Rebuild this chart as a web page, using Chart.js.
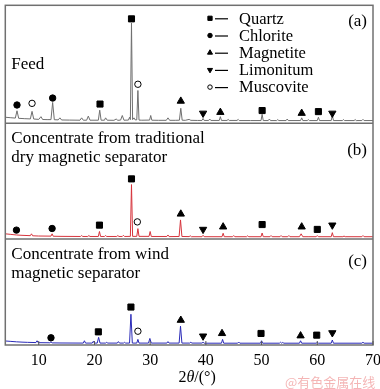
<!DOCTYPE html>
<html><head><meta charset="utf-8">
<script src="https://cdn.jsdelivr.net/npm/chart.js@4.4.1/dist/chart.umd.min.js"></script>
<style>html,body{margin:0;padding:0;background:#fff;overflow:hidden}#wrap{width:380px;height:389px;position:relative}</style>
</head><body><div id="wrap"><canvas id="c" width="380" height="389"></canvas></div>
<script>
// ---------- data ----------
const xTickValues = [10, 20, 30, 40, 50, 60, 70];
const xTitle = ["2", "θ", "/(°)"];
const panelLabels = [["Feed"], ["Concentrate from traditional", "dry magnetic separator"], ["Concentrate from wind", "magnetic separator"]];
const panelTags = ["(a)", "(b)", "(c)"];
const phases = ["Quartz", "Chlorite", "Magnetite", "Limonitum", "Muscovite"];
const watermark = "@有色金属在线";

// XRD patterns: [2θ, relative intensity (% of panel height)]
const feedPattern = [[4,5],[5,4.6],[5.8,4.3],[6.1,10.5],[6.4,4.1],[7.5,3.8],[8.5,3.6],[8.8,10],[9.1,3.5],[10.0,3.2],[10.4,5.5],[10.7,3.1],[11.5,3],[12.2,3],[12.5,17.6],[12.8,2.9],[13.5,2.8],[13.8,4.5],[14.1,2.7],[15.5,2.6],[17.4,2.5],[17.7,4.5],[18.0,2.5],[18.6,2.5],[18.9,6],[19.2,2.5],[20.7,2.5],[20.95,11],[21.2,2.5],[21.8,2.5],[22.0,4.5],[22.3,2.5],[23.5,2.4],[23.9,3.5],[24.2,2.4],[24.7,2.6],[25.0,6.5],[25.3,2.5],[26.1,2.6],[26.3,5],[26.45,3],[26.65,85],[26.85,3],[27.1,4.5],[27.3,2.8],[27.6,2.8],[27.8,27.7],[28.0,2.6],[28.5,2.5],[29.9,2.6],[30.1,6.5],[30.3,2.5],[31.5,2.4],[32.9,2.4],[33.2,4.5],[33.5,2.4],[34.5,2.4],[35.25,2.5],[35.5,12.6],[35.75,2.5],[36.3,2.4],[37,3.2],[37.3,2.4],[38.5,2.3],[39.3,2.3],[39.5,4],[39.7,2.3],[40.5,2.3],[40.7,3.5],[40.9,2.3],[42.4,2.3],[42.6,5.5],[42.8,2.3],[43.8,2.3],[44.0,3.2],[44.2,2.3],[45.6,2.3],[45.8,3.2],[46.0,2.2],[48,2.2],[49.9,2.2],[50.1,7.5],[50.3,2.2],[51.2,2.2],[51.4,3.5],[51.6,2.2],[52.7,2.2],[52.9,3],[53.1,2.2],[54.4,2.2],[54.6,3.5],[54.8,2.2],[56.0,2.2],[57.0,2.2],[57.2,4.5],[57.4,2.2],[58.2,2.2],[58.4,3],[58.6,2.2],[60.0,2.2],[60.2,5],[60.4,2.2],[62.5,2.2],[62.7,6.7],[62.9,2.2],[64.5,2.2],[64.7,3],[64.9,2.2],[66.6,2.2],[66.8,3],[67,2.2],[68,2.2],[68.2,3.2],[68.4,2.2],[70,2.2]];
const traditionalPattern = [[4,4.5],[5,4],[6,3.5],[7,3.2],[8.5,2.9],[8.7,4.5],[8.9,2.8],[10,2.6],[12.2,2.5],[12.4,4.5],[12.6,2.4],[14,2.3],[17.5,2.2],[17.7,3],[17.9,2.2],[18.8,2.2],[19,3],[19.2,2.2],[20.7,2.2],[20.9,6.5],[21.1,2.2],[21.8,2.2],[22,3],[22.2,2.2],[24,2.2],[24.2,3],[24.4,2.2],[25,2.2],[25.2,3.2],[25.4,2.2],[26.45,2.3],[26.65,47],[26.85,2.3],[27.6,2.3],[27.8,9],[28,2.3],[29.8,2.3],[30.0,6.5],[30.2,2.2],[33,2.2],[33.2,3.5],[33.4,2.1],[35.2,2.2],[35.45,16.5],[35.7,2.2],[37,2.1],[37.2,2.8],[37.4,2],[39.3,2],[39.5,3.2],[39.7,2],[42.9,2],[43.1,5],[43.3,2],[44.8,2],[45,3],[45.2,2],[47.3,2],[47.5,2.8],[47.7,2],[49.9,2],[50.1,5.2],[50.3,2],[51.5,2],[51.7,3],[51.9,2],[53.3,2],[53.5,3],[53.7,2],[54.7,2],[54.9,3],[55.1,2],[56.8,2],[57.1,4.5],[57.4,2],[58.5,2],[59.8,2],[60,3],[60.2,2],[62.5,2],[62.7,5.5],[62.9,2],[64.6,2],[64.8,2.6],[65,2],[68,2],[68.2,3],[68.4,2],[70,2]];
const windPattern = [[4,3.8],[5,3.4],[6,3],[7,2.7],[8,2.5],[9.5,2.3],[9.7,4],[9.9,2.2],[12,2.1],[12.2,3],[12.4,2],[14,1.9],[18,1.8],[18.2,4],[18.4,1.8],[19.6,1.8],[19.8,3.5],[20,1.8],[20.5,1.8],[20.75,7.2],[21,1.8],[22,1.8],[22.2,2.5],[22.4,1.8],[24.1,1.8],[24.3,3.2],[24.5,1.8],[25.2,1.8],[25.4,2.5],[25.6,1.8],[26.3,1.8],[26.55,29],[26.8,1.8],[27.6,1.8],[27.8,5.3],[28,1.8],[29.7,1.8],[29.95,6.2],[30.2,1.8],[33,1.8],[33.2,3.2],[33.4,1.8],[35.2,1.8],[35.45,17.8],[35.7,1.8],[37.1,1.8],[37.3,2.6],[37.5,1.8],[39.3,1.8],[39.5,2.6],[39.7,1.7],[42.8,1.7],[43.0,5.3],[43.2,1.7],[45.7,1.7],[45.9,2.8],[46.1,1.7],[49.8,1.7],[50.0,4],[50.2,1.7],[53.2,1.7],[53.4,2.6],[53.6,1.7],[53.8,2.4],[54,1.7],[56.8,1.7],[57.0,4],[57.2,1.7],[59.8,1.7],[60,2.5],[60.2,1.7],[62.5,1.7],[62.7,4.7],[62.9,1.7],[68,1.7],[68.2,2.6],[68.4,1.7],[70,1.7]];

// phase markers per panel: [2θ, marker height]
const feedQuartz = [[21.0,16.2],[26.65,88.5],[50.1,10.7],[60.2,9.8]];
const feedChlorite = [[6.1,15.4],[12.5,21.3]];
const feedMagnetite = [[35.5,18.7],[42.6,9.2],[57.2,8.4]];
const feedLimonitum = [[39.5,8.4],[62.7,8.4]];
const feedMuscovite = [[8.8,16.8],[27.8,33]];

const tradQuartz = [[20.9,12],[26.65,51.9],[50.1,12.5],[60.0,8.3]];
const tradChlorite = [[6.0,7.7],[12.4,9.1]];
const tradMagnetite = [[35.5,21.6],[43.1,10.5],[57.2,10.5]];
const tradLimonitum = [[39.5,8.3],[62.7,12]];
const tradMuscovite = [[27.7,14.8]];

const windQuartz = [[20.7,12.4],[26.55,35.8],[49.9,10.9],[59.9,9.3]];
const windChlorite = [[12.2,6.8]];
const windMagnetite = [[35.5,23.4],[42.9,10.9],[57.0,8.7]];
const windLimonitum = [[39.5,8.4],[62.7,11.5]];
const windMuscovite = [[27.8,13]];

// ---------- styles ----------
const SERIF = '"Liberation Serif", "Times New Roman", serif';
const phaseStyle = {
  Quartz:    {pointStyle:'rect', radius:4.3, rotation:0, fill:'#000'},
  Chlorite:  {pointStyle:'circle', radius:3.2, rotation:0, fill:'#000'},
  Magnetite: {pointStyle:'triangle', radius:4.2, rotation:0, fill:'#000'},
  Limonitum: {pointStyle:'triangle', radius:4.2, rotation:180, fill:'#000'},
  Muscovite: {pointStyle:'circle', radius:3.2, rotation:0, fill:'#fff'}
};
const panels = [
  {axis:'ya', pattern:feedPattern, color:'#6f6f6f', weight:119, markers:[feedQuartz,feedChlorite,feedMagnetite,feedLimonitum,feedMuscovite]},
  {axis:'yb', pattern:traditionalPattern, color:'#d6343c', weight:117, markers:[tradQuartz,tradChlorite,tradMagnetite,tradLimonitum,tradMuscovite]},
  {axis:'yc', pattern:windPattern, color:'#2b2bb8', weight:107, markers:[windQuartz,windChlorite,windMagnetite,windLimonitum,windMuscovite]}
];

const toXY = arr => arr.map(([x, y]) => ({x, y}));
const datasets = [];
panels.forEach(p => {
  datasets.push({type:'line', data:toXY(p.pattern), yAxisID:p.axis, borderColor:p.color, borderWidth:1, pointRadius:0, tension:0, showLine:true, order:2});
  p.markers.forEach((m, i) => {
    const s = phaseStyle[phases[i]];
    datasets.push({type:'scatter', label:phases[i], data:toXY(m), yAxisID:p.axis,
      pointStyle:s.pointStyle, pointRadius:s.radius, pointRotation:s.rotation,
      pointBackgroundColor:s.fill, pointBorderColor:'#000', pointBorderWidth:1, order:1});
  });
});

function yAxis(p) {
  return {type:'linear', position:'left', stack:'xrd', stackWeight:p.weight, min:0, max:100,
    ticks:{display:false}, grid:{display:false, drawTicks:false}, border:{display:false}};
}

const decor = {
  id:'decor',
  afterDraw(chart) {
    const ctx = chart.ctx, ca = chart.chartArea, xs = chart.scales.x;
    ctx.save();
    ctx.strokeStyle = '#707070'; ctx.lineWidth = 1.5;
    ctx.strokeRect(ca.left, ca.top, ca.right - ca.left, ca.bottom - ca.top);
    ['ya','yb'].forEach(id => {
      const b = chart.scales[id].bottom;
      ctx.beginPath(); ctx.moveTo(ca.left, b); ctx.lineTo(ca.right, b); ctx.stroke();
    });
    ctx.lineWidth = 1; ctx.strokeStyle = '#555';
    xs.ticks.forEach(t => {
      const px = xs.getPixelForValue(t.value);
      ctx.beginPath(); ctx.moveTo(px, ca.bottom); ctx.lineTo(px, ca.bottom - 4); ctx.stroke();
    });
    ctx.fillStyle = '#000';
    ctx.textBaseline = 'alphabetic';
    const offs = [[64], [20, 39], [20, 39]];
    const tagOffs = [21, 31.5, 27];
    panels.forEach((p, i) => {
      const sc = chart.scales[p.axis];
      ctx.font = '17px ' + SERIF; ctx.textAlign = 'left';
      panelLabels[i].forEach((line, j) => ctx.fillText(line, ca.left + 6, sc.top + offs[i][j]));
      ctx.textAlign = 'right';
      ctx.fillText(panelTags[i], ca.right - 6, sc.top + tagOffs[i]);
    });
    const lx = 210, ly0 = chart.scales.ya.top + 13, dy = 17.2;
    phases.forEach((name, i) => {
      const s = phaseStyle[name], y = ly0 + i * dy;
      ctx.fillStyle = s.fill; ctx.strokeStyle = '#000'; ctx.lineWidth = 1;
      Chart.helpers.drawPoint(ctx, {pointStyle:s.pointStyle, radius:s.radius * 0.7, rotation:s.rotation, borderWidth:1}, lx, y);
      ctx.beginPath(); ctx.moveTo(lx + 5, y + 0.5); ctx.lineTo(lx + 18, y + 0.5); ctx.lineWidth = 1.2; ctx.stroke();
      ctx.fillStyle = '#000'; ctx.font = '16.5px ' + SERIF; ctx.textAlign = 'left'; ctx.textBaseline = 'middle';
      ctx.fillText(name, lx + 29, y + 1);
    });
    ctx.textBaseline = 'alphabetic';
    const fonts = ['16px ' + SERIF, 'italic 16px ' + SERIF, '16px ' + SERIF];
    let w = 0;
    xTitle.forEach((t, i) => { ctx.font = fonts[i]; w += ctx.measureText(t).width; });
    let tx = (ca.left + ca.right) / 2 - w / 2 + 8;
    xTitle.forEach((t, i) => { ctx.font = fonts[i]; ctx.textAlign = 'left'; ctx.fillText(t, tx, ca.bottom + 37); tx += ctx.measureText(t).width; });
    ctx.font = '13px "Noto Sans CJK SC", sans-serif'; ctx.fillStyle = 'rgba(235,120,120,0.55)';
    ctx.textAlign = 'left'; ctx.textBaseline = 'middle';
    ctx.fillText(watermark, 285, 382);
    ctx.restore();
  }
};

new Chart(document.getElementById('c'), {
  type:'scatter',
  data:{datasets},
  options:{
    responsive:false, animation:false, devicePixelRatio:1,
    layout:{padding:{left:2, right:7, top:2, bottom:14}},
    plugins:{legend:{display:false}, tooltip:{enabled:false}},
    scales:{
      x:{type:'linear', min:4, max:70,
        afterBuildTicks: s => { s.ticks = xTickValues.map(v => ({value:v})); },
        afterFit: s => { s.height = 30; s.paddingLeft = 0; s.paddingRight = 0; },
        ticks:{includeBounds:false, color:'#000', font:{family:SERIF, size:16}, padding:6, maxRotation:0},
        grid:{display:false, drawTicks:false}, border:{display:false}},
      yc: yAxis(panels[2]),
      yb: yAxis(panels[1]),
      ya: yAxis(panels[0])
    }
  },
  plugins:[decor]
});
</script></body></html>
